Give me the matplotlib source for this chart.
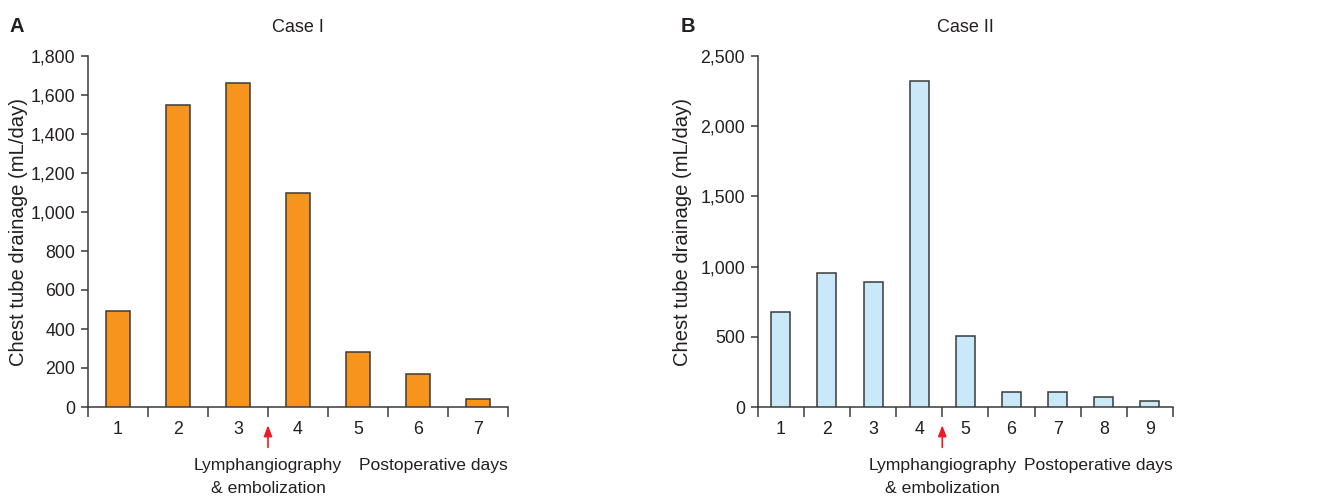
import matplotlib
matplotlib.use("Agg")
import matplotlib.pyplot as plt
from matplotlib.ticker import FuncFormatter, FixedLocator

plt.rcParams['font.family'] = ['Liberation Sans', 'DejaVu Sans']

# ---- data ----
days_a = ["1", "2", "3", "4", "5", "6", "7"]
drain_a = [490, 1550, 1660, 1095, 280, 170, 40]
days_b = ["1", "2", "3", "4", "5", "6", "7", "8", "9"]
drain_b = [675, 955, 890, 2320, 505, 105, 105, 70, 45]
yticks_a = [0, 200, 400, 600, 800, 1000, 1200, 1400, 1600, 1800]
yticks_b = [0, 500, 1000, 1500, 2000, 2500]
titles = ["Case I", "Case II"]
panel_labels = ["A", "B"]
procedure_after = [3, 4]   # procedure done between day N and N+1
ylabel = "Chest tube drainage (mL/day)"
xlabel = "Postoperative days"
proc_lines = ["Lymphangiography", "& embolization"]

colors = ["#F7941D", "#C9E9F8"]
edge = "#3a3a3a"
txt = "#231f20"
fs_tick = 12.8
fs_note = 12.6
fs_title = 13
fs_ylab = 14.6

fig = plt.figure(figsize=(13.23, 4.97), dpi=100)
axA = fig.add_axes([88/1323, 1-407/497, 420/1323, 351/497])
axB = fig.add_axes([757.7/1323, 1-407/497, 415.3/1323, 351/497])

fmt = FuncFormatter(lambda v, p: f"{int(v):,}")

for ax, days, vals, yt, col, title, proc, ylx in [
        (axA, days_a, drain_a, yticks_a, colors[0], titles[0], procedure_after[0], (19 - 88) / 420),
        (axB, days_b, drain_b, yticks_b, colors[1], titles[1], procedure_after[1], (683 - 757.7) / 415.3)]:
    n = len(days)
    pos = [i + 0.5 for i in range(n)]
    ax.bar(pos, vals, width=0.41, color=col, edgecolor=edge, linewidth=1.1, zorder=3)
    ax.set_xlim(0, n)
    ax.set_ylim(0, yt[-1])
    ax.set_yticks(yt)
    ax.yaxis.set_major_formatter(fmt)
    ax.xaxis.set_major_locator(FixedLocator(list(range(n + 1))))
    ax.xaxis.set_major_formatter(FuncFormatter(lambda v, p: ""))
    ax.xaxis.set_minor_locator(FixedLocator(pos))
    ax.set_xticklabels(days, minor=True)
    ax.tick_params(axis='x', which='major', direction='out', length=7, width=1.1, color=edge)
    ax.tick_params(axis='x', which='minor', length=0, pad=10, labelsize=fs_tick, labelcolor=txt)
    ax.tick_params(axis='y', direction='out', length=5, width=1.1, color=edge, labelsize=fs_tick,
                   labelcolor=txt, pad=4)
    for s in ['top', 'right']:
        ax.spines[s].set_visible(False)
    for s in ['left', 'bottom']:
        ax.spines[s].set_color(edge)
        ax.spines[s].set_linewidth(1.1)
    ax.text(0.5, 1 + (56 - 27) / 351, title, transform=ax.transAxes, ha='center', va='center',
            fontsize=fs_title, color=txt)
    ax.text(ylx, 0.5, ylabel, transform=ax.transAxes, ha='center', va='center', rotation=90,
            fontsize=fs_ylab, color=txt)
    trans = ax.get_xaxis_transform()
    ax.annotate("", xy=(proc, -0.052), xytext=(proc, -0.115), xycoords=trans, textcoords=trans,
                arrowprops=dict(arrowstyle="-|>,head_length=0.65,head_width=0.25", color="#ED1C24",
                                lw=1.2, shrinkA=0, shrinkB=0), annotation_clip=False)
    ax.text(proc, -0.168, proc_lines[0], transform=trans, ha='center', va='center',
            fontsize=fs_note, color=txt)
    ax.text(proc, -0.231, proc_lines[1], transform=trans, ha='center', va='center',
            fontsize=fs_note, color=txt)
    ax.text(n, -0.168, xlabel, transform=trans, ha='right', va='center',
            fontsize=fs_note, color=txt)

fig.text(10/1323, 1-27/497, panel_labels[0], fontsize=14.5, fontweight='bold', va='center', color=txt)
fig.text(681/1323, 1-27/497, panel_labels[1], fontsize=14.5, fontweight='bold', va='center', color=txt)

fig.savefig("out.png", dpi=100)
